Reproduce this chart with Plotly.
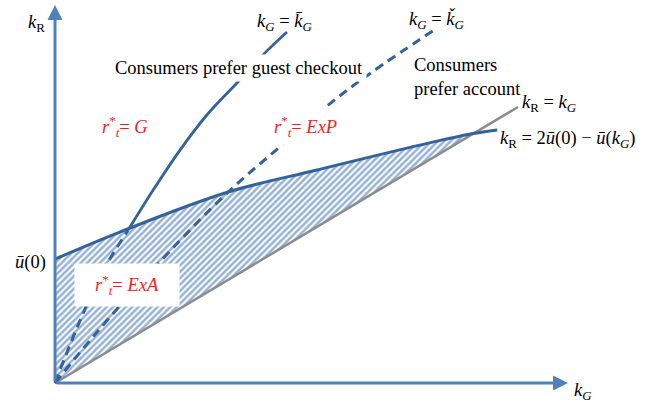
import plotly.graph_objects as go

# ---- data (axis units chosen so that k_R = k_G is the 45-degree line) ----
# upper boundary k_R = 2u(0) - u(k_G)
upper_x = [0.0, 1.40, 3.74, 5.66, 7.88, 9.00, 9.55]
upper_y = [4.49, 5.47, 6.92, 7.72, 8.62, 9.03, 9.17]

# k_R = k_G
diag_x = [0.0, 10.0]
diag_y = [0.0, 10.0]

# k_G = k-bar_G : dashed part (inside shaded area) and solid part
kbar_dash_x = [0.0, 0.45, 1.00, 1.58]
kbar_dash_y = [0.0, 1.90, 3.95, 5.54]
kbar_x = [1.58, 2.12, 2.70, 3.28, 3.93, 4.60, 5.01]
kbar_y = [5.54, 6.99, 8.44, 9.71, 10.87, 12.07, 12.72]

# k_G = k-check_G (dashed)
kchk_x = [0.0, 0.86, 2.27, 3.74, 4.90, 5.98, 6.85, 8.25]
kchk_y = [0.0, 1.75, 4.40, 6.92, 8.62, 10.18, 11.27, 12.86]

# axis extents
x_tip = 11.08
y_tip = 13.70
x_range = [-1.188, 12.786]
y_range = [-0.688, 13.877]

AXIS_C = "#4f81bd"
LINE_C = "#34629a"
HATCH_C = "#2f66b0"
GRAY_C = "#8c8c8c"
RED = "#ff1a1a"
FONT = "Liberation Serif"
FS = 18.5

fig = go.Figure()

# hatched region between upper boundary and k_R = k_G
fill_x = [0.0] + upper_x[:6] + [0.0]
fill_y = [0.0] + upper_y[:6] + [0.0]
fig.add_trace(go.Scatter(
    x=fill_x, y=fill_y, mode="lines", fill="toself",
    line=dict(width=0, color="rgba(0,0,0,0)"),
    fillcolor="white",
    fillpattern=dict(shape="/", fgcolor=HATCH_C, bgcolor="white", size=4.5, solidity=0.55),
    hoverinfo="skip", showlegend=False))

# k_R = k_G
fig.add_trace(go.Scatter(x=diag_x, y=diag_y, mode="lines",
                         line=dict(color=GRAY_C, width=2.5), showlegend=False))

# dashed lines
fig.add_trace(go.Scatter(x=kchk_x, y=kchk_y, mode="lines",
                         line=dict(color=LINE_C, width=3, dash="9px,6px", shape="spline"),
                         showlegend=False))
fig.add_trace(go.Scatter(x=kbar_dash_x, y=kbar_dash_y, mode="lines",
                         line=dict(color=LINE_C, width=3, dash="9px,6px", shape="spline"),
                         showlegend=False))

# upper boundary
fig.add_trace(go.Scatter(x=upper_x, y=upper_y, mode="lines",
                         line=dict(color=LINE_C, width=3, shape="spline"), showlegend=False))

# k-bar solid
fig.add_trace(go.Scatter(x=kbar_x, y=kbar_y, mode="lines",
                         line=dict(color=LINE_C, width=2.8, shape="spline"), showlegend=False))

ann = []
# axes with arrows
ann.append(dict(x=0, y=y_tip, ax=0, ay=0, xref="x", yref="y", axref="x", ayref="y",
                text="", showarrow=True, arrowhead=2, arrowsize=1, arrowwidth=3,
                arrowcolor=AXIS_C, standoff=0))
ann.append(dict(x=x_tip, y=0, ax=0, ay=0, xref="x", yref="y", axref="x", ayref="y",
                text="", showarrow=True, arrowhead=2, arrowsize=1, arrowwidth=3,
                arrowcolor=AXIS_C, standoff=0))

def txt(x, y, t, color="black", size=FS, xanchor="center", bg=None, **kw):
    d = dict(x=x, y=y, xref="x", yref="y", text=t, showarrow=False,
             font=dict(family=FONT, size=size, color=color), xanchor=xanchor, yanchor="middle")
    if bg:
        d["bgcolor"] = bg
    d.update(kw)
    ann.append(d)

txt(-0.39, 13.04, "<i>k</i><sub>R</sub>")
txt(-0.15, 4.38, "<i>ū</i>(0)", xanchor="right")
txt(11.17, -0.29, "<i>k</i><sub><i>G</i></sub>", xanchor="left")
txt(4.95, 13.08, "<i>k</i><sub><i>G</i></sub> = <i>k̄</i><sub><i>G</i></sub>")
txt(8.25, 13.15, "<i>k</i><sub><i>G</i></sub> = <i>ǩ</i><sub><i>G</i></sub>")
txt(3.97, 11.41, "Consumers prefer guest checkout", bg="white", borderpad=3)
txt(7.71, 11.09, "Consumers<br>prefer account", xanchor="left", align="left")
txt(10.04, 10.14, "<i>k</i><sub>R</sub> = <i>k</i><sub><i>G</i></sub>", xanchor="left")
txt(9.57, 8.84, "<i>k</i><sub>R</sub> = 2<i>ū</i>(0) − <i>ū</i>(<i>k</i><sub><i>G</i></sub>)", xanchor="left")
txt(1.51, 9.28, "<i>r</i><sup>*</sup><sub><i>t</i></sub>= <i>G</i>", color=RED)
txt(5.40, 9.28, "<i>r</i><sup>*</sup><sub><i>t</i></sub>= <i>ExP</i>", color=RED, bg="white", borderpad=5)
txt(1.56, 3.55, "<i>r</i><sup>*</sup><sub><i>t</i></sub>= <i>ExA</i>", color=RED, bg="white",
    width=100, height=38, borderpad=2)

fig.update_layout(
    width=647, height=402,
    margin=dict(l=0, r=0, t=0, b=0),
    paper_bgcolor="white", plot_bgcolor="white",
    xaxis=dict(range=x_range, visible=False, fixedrange=True),
    yaxis=dict(range=y_range, visible=False, fixedrange=True),
    annotations=ann,
    showlegend=False,
)

fig.write_html("out.html", config={"displayModeBar": False},
               post_script="document.body.style.margin='0px';document.body.style.overflow='hidden';")
